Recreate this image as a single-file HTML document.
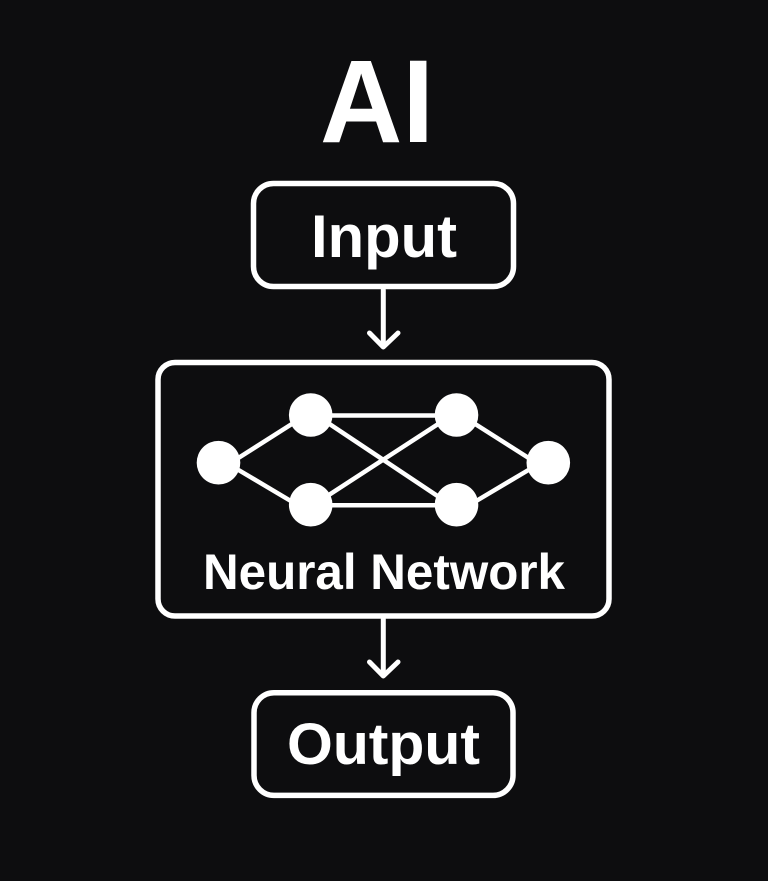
<!DOCTYPE html>
<html>
<head>
<meta charset="utf-8">
<style>
html,body{margin:0;padding:0;background:#0d0d0f;}
svg{display:block;}
text{font-family:"Liberation Sans",sans-serif;fill:#fff;text-anchor:middle;font-weight:700;}
</style>
</head>
<body>
<svg width="768" height="881" viewBox="0 0 768 881" xmlns="http://www.w3.org/2000/svg">
<rect width="768" height="881" fill="#0d0d0f"/>
<text x="377" y="142" font-size="118" textLength="114" lengthAdjust="spacingAndGlyphs">AI</text>

<rect x="253.500" y="183.500" width="260" height="103" rx="20" fill="none" stroke="#fff" stroke-width="5.500"/>
<text x="384" y="257" font-size="60" textLength="146" lengthAdjust="spacingAndGlyphs">Input</text>

<g fill="none" stroke="#fff" stroke-width="5" stroke-linecap="round" stroke-linejoin="round">
<path d="M383.300 290V346"/>
<path d="M369.500 333L383.300 347L398 333"/>
<path d="M383.300 619V675"/>
<path d="M369.500 662L383.300 676L398 662"/>
</g>

<rect x="158" y="362.500" width="451" height="253.500" rx="17" fill="none" stroke="#fff" stroke-width="5.500"/>

<g stroke="#fff" stroke-width="4.500" fill="none">
<line x1="236" y1="459.500" x2="295" y2="422"/>
<line x1="236" y1="468.500" x2="295" y2="503.500"/>
<line x1="310" y1="415.500" x2="457" y2="415.500"/>
<line x1="310" y1="505.300" x2="457" y2="505.300"/>
<line x1="325" y1="421" x2="442" y2="499"/>
<line x1="325" y1="497.500" x2="442" y2="421.500"/>
<line x1="472" y1="422" x2="531" y2="459.500"/>
<line x1="472" y1="503.500" x2="531" y2="468.500"/>
</g>
<g fill="#fff">
<circle cx="218.500" cy="462.700" r="21.800"/>
<circle cx="310.700" cy="415" r="21.800"/>
<circle cx="310.700" cy="504.700" r="21.800"/>
<circle cx="456.500" cy="415" r="21.800"/>
<circle cx="456.500" cy="504.700" r="21.800"/>
<circle cx="548.300" cy="462.700" r="21.800"/>
</g>
<text x="384" y="589" font-size="50" textLength="362" lengthAdjust="spacingAndGlyphs">Neural Network</text>

<rect x="254" y="692.700" width="259" height="102.700" rx="20" fill="none" stroke="#fff" stroke-width="5.500"/>
<text x="383.500" y="764" font-size="58" textLength="193" lengthAdjust="spacingAndGlyphs">Output</text>
</svg>
</body>
</html>
